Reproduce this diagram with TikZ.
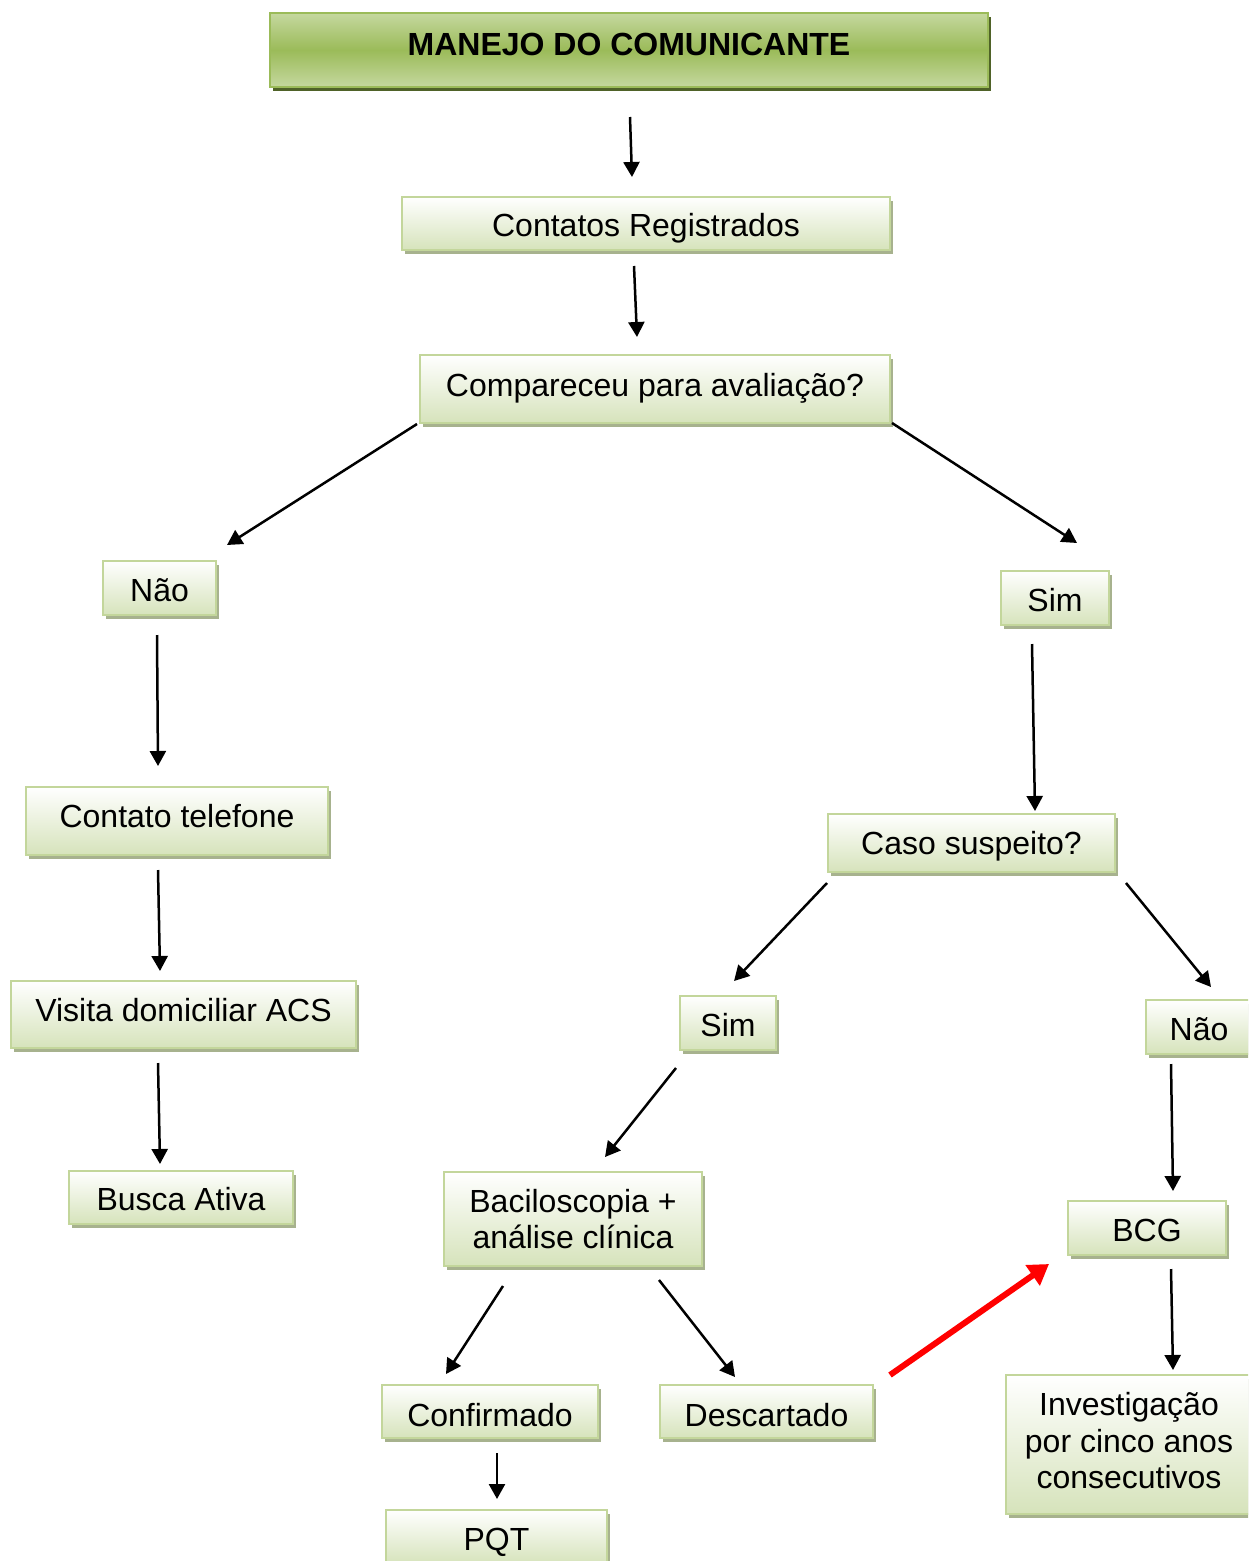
\documentclass[tikz,border=0pt]{standalone}
\usepackage{fontspec}
\setmainfont{Liberation Sans}
\usetikzlibrary{shadows,arrows.meta}
\definecolor{boxbot}{HTML}{D6E3BB}
\definecolor{boxline}{HTML}{C3D69B}
\definecolor{boxshadow}{HTML}{A7B28E}
\definecolor{ttop}{HTML}{C5D89F}
\definecolor{tmid}{HTML}{9BBB59}
\definecolor{tline}{HTML}{9BBB59}
\definecolor{tshadow}{HTML}{4F6228}
\tikzset{
  box/.style={draw=boxline, line width=2pt, top color=white, bottom color=boxbot,
    general shadow={fill=boxshadow, shadow xshift=3pt, shadow yshift=-4pt},
    inner sep=0pt, align=center, text height=28pt, text depth=2pt,
    font=\fontsize{32}{36.5}\selectfont},
  titlebox/.style={draw=tline, line width=2pt, top color=ttop, bottom color=ttop, middle color=tmid,
    general shadow={fill=tshadow, shadow xshift=3pt, shadow yshift=-4pt},
    inner sep=0pt, align=center, text height=28pt, text depth=2pt,
    font=\fontsize{32}{36.5}\selectfont\bfseries},
  arr/.style={line width=2.5pt, -{Triangle[length=15pt,width=16pt]}},
  redarr/.style={line width=6pt, red, -{Triangle[length=20pt,width=24pt]}}
}
\begin{document}
\begin{tikzpicture}[x=1pt,y=-1pt]
\useasboundingbox (0,0) rectangle (1248,1561);
\clip (0,0) rectangle (1248,1561);
\node[titlebox, minimum width=718pt, minimum height=74pt] (title) at (629,50) {\raisebox{8pt}{MANEJO DO COMUNICANTE}};
\node[box, minimum width=488pt, minimum height=53pt] (reg) at (646,223.5) {Contatos Registrados};
\node[box, minimum width=470pt, minimum height=68pt, text height=22pt, text depth=8pt] (comp) at (655,389) {Compareceu para avaliação?};
\node[box, minimum width=113pt, minimum height=54pt] (nao1) at (159.5,588) {Não};
\node[box, minimum width=108pt, minimum height=54pt] (sim1) at (1055,598) {Sim};
\node[box, minimum width=302pt, minimum height=68pt, text height=21pt, text depth=9pt] (tel) at (177,821) {Contato telefone};
\node[box, minimum width=287pt, minimum height=58pt, text height=26pt, text depth=4pt] (caso) at (971.5,843) {Caso suspeito?};
\node[box, minimum width=345pt, minimum height=67pt, text height=22pt, text depth=8pt] (visita) at (183.5,1014.5) {Visita domiciliar ACS};
\node[box, minimum width=96pt, minimum height=54pt] (sim2) at (728,1023) {Sim};
\node[box, minimum width=106pt, minimum height=54pt] (nao2) at (1199,1027) {Não};
\node[box, minimum width=224pt, minimum height=53pt] (busca) at (181,1197.5) {Busca Ativa};
\node[box, minimum width=258pt, minimum height=94pt, text height=, text depth=] (bacil) at (573,1219) {Baciloscopia +\\análise clínica};
\node[box, minimum width=158pt, minimum height=54pt] (bcg) at (1147,1228) {BCG};
\node[box, minimum width=216pt, minimum height=53pt, text height=30pt, text depth=0pt] (conf) at (490,1411.5) {Confirmado};
\node[box, minimum width=213pt, minimum height=53pt, text height=30pt, text depth=0pt] (desc) at (766.5,1411.5) {Descartado};
\node[box, minimum width=221pt, minimum height=54pt] (pqt) at (496.5,1537) {PQT};
\node[box, minimum width=246pt, minimum height=139pt, text height=, text depth=] (inv) at (1129,1444.5) {Investigação\\por cinco anos\\consecutivos\rule[-8pt]{0pt}{8pt}};

\draw[arr] ([shift={(1,29)}]title.south) -- ([shift={(-14,-19)}]reg.north);
\draw[arr] ([shift={(-12,15)}]reg.south) -- ([shift={(-18,-17)}]comp.north);
\draw[arr] ([shift={(-2,0)}]comp.south west) -- ([shift={(67.5,-15)}]nao1.north);
\draw[arr] ([shift={(1,-1)}]comp.south east) -- ([shift={(22,-27)}]sim1.north);
\draw[arr] ([shift={(-2.5,19)}]nao1.south) -- ([shift={(-19,-20)}]tel.north);
\draw[arr] ([shift={(-23,18)}]sim1.south) -- ([shift={(63.5,-2)}]caso.north);
\draw[arr] ([shift={(-19,14)}]tel.south) -- ([shift={(-23.5,-9)}]visita.north);
\draw[arr] ([shift={(0,10)}]caso.south west) -- ([shift={(6,-14)}]sim2.north);
\draw[arr] ([shift={(10,10)}]caso.south east) -- ([shift={(12,-12)}]nao2.north);
\draw[arr] ([shift={(-25.5,14)}]visita.south) -- ([shift={(-21,-6)}]busca.north);
\draw[arr] ([shift={(-52,17)}]sim2.south) -- ([shift={(32,-14)}]bacil.north);
\draw[arr] ([shift={(-28,9)}]nao2.south) -- ([shift={(26,-9)}]bcg.north);
\draw[arr] ([shift={(-70,19)}]bacil.south) -- ([shift={(-44,-10)}]conf.north);
\draw[arr] ([shift={(86,13)}]bacil.south) -- ([shift={(-31.5,-7)}]desc.north);
\draw[arr] ([shift={(24,13)}]bcg.south) -- ([shift={(44,-4)}]inv.north);
\draw[arr] ([shift={(7,14)}]conf.south) -- ([shift={(0.5,-10)}]pqt.north);
\draw[redarr] ([shift={(16,-36.5)}]desc.east) -- ([shift={(-18,8)}]bcg.south west);
\end{tikzpicture}
\end{document}
